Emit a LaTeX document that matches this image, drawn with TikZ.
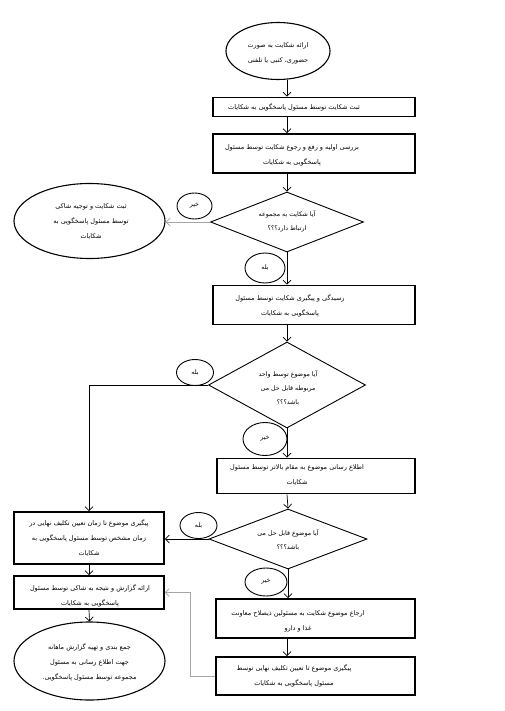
\documentclass[tikz,border=0pt]{standalone}
\usepackage{fontspec}
\newfontfamily\fa[Script=Arabic]{DejaVu Sans}
\TeXXeTstate=1
\usetikzlibrary{shapes.geometric,arrows.meta}
\newcommand{\rl}[1]{\beginR #1\endR}
\begin{document}
\begin{tikzpicture}[x=1pt,y=-1pt,
  box/.style={draw, line width=1.7pt, rectangle, inner sep=0pt},
  dia/.style={draw, diamond, line width=0.9pt, inner sep=0pt},
  ell/.style={draw, ellipse, line width=1.1pt, inner sep=0pt},
  tag/.style={draw, ellipse, line width=0.9pt, inner sep=0pt, font=\fa\fontsize{6.3}{8}\selectfont},
  txt/.style={font=\fa\fontsize{6.5}{15}\selectfont, align=center, inner sep=0pt},
  dtxt/.style={font=\fa\fontsize{6.3}{13.8}\selectfont, align=center, inner sep=0pt},
  arr/.style={line width=0.7pt, -{Straight Barb[length=4pt,width=8pt]}},
  garr/.style={arr, draw=gray!70}]
\fill[white] (0,0) rectangle (505,711);
\useasboundingbox (0,0) rectangle (505,711);
\coordinate (spine) at (287,0);
\coordinate (gx) at (190.5,0);

% main column
\node[ell, minimum width=104pt, minimum height=57pt] (e1) at (278,51) {};
\node[txt] (e1t) at (278,53) {\rl{ارائه شکایت به صورت}\\\rl{حضوری، کتبی یا تلفنی}};

\node[box, minimum width=202pt, minimum height=19pt] (b2) at (314,107) {};
\node[txt] (b2t) at (294,107) {\rl{ثبت شکایت توسط مسئول پاسخگویی به شکایات}};

\node[box, minimum width=202pt, minimum height=39pt] (b3) at (314,153.5) {};
\node[txt] (b3t) at (292,155) {\rl{بررسی اولیه و رفع و رجوع شکایت توسط مسئول}\\\rl{پاسخگویی به شکایات}};

\node[dia, minimum width=153pt, minimum height=60pt] (d4) at (287,222) {};
\node[dtxt] (d4t) at (287,221.5) {\rl{آیا شکایت به مجموعه}\\\rl{ارتباط دارد؟؟؟}};

\node[tag, minimum width=35pt, minimum height=26pt] (n4) at (194.5,206) {\rl{خیر}};
\node[tag, minimum width=40pt, minimum height=30pt] (y4) at (265,268) {\rl{بله}};

\node[ell, minimum width=151pt, minimum height=75pt] (e5) at (89.5,221) {};
\node[txt] (e5t) at (91,222) {\rl{ثبت شکایت و توجیه شاکی}\\\rl{توسط مسئول پاسخگویی به}\\\rl{شکایات}};

\node[box, minimum width=202pt, minimum height=39pt] (b7) at (314,305) {};
\node[txt] (b7t) at (290,305.5) {\rl{رسیدگی و پیگیری شکایت توسط مسئول}\\\rl{پاسخگویی به شکایات}};

\node[dia, minimum width=157pt, minimum height=86pt] (d8) at (287,385) {};
\node[dtxt] (d8t) at (288,388) {\rl{آیا موضوع توسط واحد}\\\rl{مربوطه قابل حل می}\\\rl{باشد؟؟؟}};

\node[tag, minimum width=37pt, minimum height=26pt] (y8) at (195,372.5) {\rl{بله}};
\node[tag, minimum width=44pt, minimum height=33pt] (n8) at (265,439) {\rl{خیر}};

\node[box, minimum width=198pt, minimum height=35pt] (b10) at (316,476) {};
\node[txt] (b10t) at (297,475.5) {\rl{اطلاع رسانی موضوع به مقام بالاتر توسط مسئول}\\\rl{شکایات}};

\node[dia, minimum width=158pt, minimum height=60pt] (d11) at (288,539) {};
\node[dtxt] (d11t) at (288,540) {\rl{آیا موضوع قابل حل می}\\\rl{باشد؟؟؟}};

\node[tag, minimum width=37pt, minimum height=26pt] (y11) at (198.5,525.5) {\rl{بله}};
\node[tag, minimum width=42pt, minimum height=28pt] (n11) at (266,582) {\rl{خیر}};

\node[box, minimum width=199pt, minimum height=39pt] (b13) at (315.5,618.5) {};
\node[txt] (b13t) at (298,621) {\rl{ارجاع موضوع شکایت به مسئولین ذیصلاح معاونت}\\\rl{غذا و دارو}};

\node[box, minimum width=199pt, minimum height=38pt] (b14) at (315.5,676) {};
\node[txt] (b14t) at (294,675.5) {\rl{پیگیری موضوع تا تعیین تکلیف نهایی توسط}\\\rl{مسئول پاسخگویی به شکایات}};

% left column
\node[box, minimum width=150pt, minimum height=52pt] (b15) at (89,538) {};
\node[txt] (b15t) at (89,538) {\rl{پیگیری موضوع تا زمان تعیین تکلیف نهایی در}\\\rl{زمان مشخص توسط مسئول پاسخگویی به}\\\rl{شکایات}};

\node[box, minimum width=150pt, minimum height=33pt] (b16) at (89,592.5) {};
\node[txt] (b16t) at (90,596) {\rl{ارائه گزارش و نتیجه به شاکی توسط مسئول}\\\rl{پاسخگویی به شکایات}};

\node[ell, minimum width=151pt, minimum height=78pt] (e17) at (89.5,661) {};
\node[txt] (e17t) at (89.5,662) {\rl{جمع بندی و تهیه گزارش ماهانه}\\\rl{جهت اطلاع رسانی به مسئول}\\\rl{مجموعه توسط مسئول پاسخگویی.}};

% connectors
\draw[arr] (e1.south -| spine) -- (b2.north -| spine);
\draw[arr] (b2.south -| spine) -- (b3.north -| spine);
\draw[arr] (b3.south -| spine) -- (d4.north);
\draw[garr] (d4.west) -- (d4.west -| e5.east);
\draw[arr] (d4.south) -- (b7.north -| d4.south);
\draw[arr] (b7.south -| spine) -- (d8.north);
\draw[arr] (d8.west) -| (b15.north);
\draw[arr] (d8.south) -- (b10.north -| d8.south);
\draw[arr] (b10.south -| spine) -- (d11.north);
\draw[arr] (d11.west) -- (d11.west -| b15.east);
\draw[arr] (d11.south) -- (b13.north -| d11.south);
\draw[arr] (b13.south -| spine) -- (b14.north -| spine);
\draw[garr] (b14.west) -- (b14.west -| gx) -- (gx |- b16.east) -- (b16.east);
\draw[arr] (b15.south) -- (b16.north);
\draw[arr] (b16.south) -- (e17.north);
\end{tikzpicture}
\end{document}
